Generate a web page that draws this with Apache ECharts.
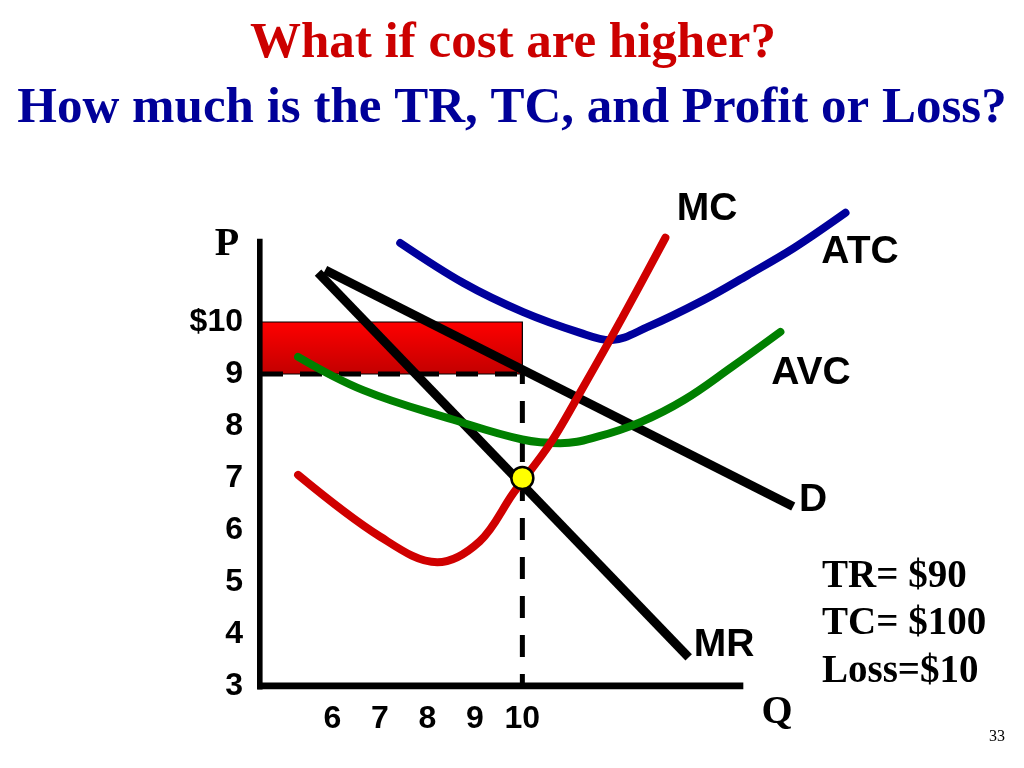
<!DOCTYPE html>
<html>
<head>
<meta charset="utf-8">
<script src="https://cdn.jsdelivr.net/npm/echarts@6/dist/echarts.min.js"></script>
<style>
html,body{margin:0;padding:0;background:#fff;}
#c{width:1024px;height:768px;}
</style>
</head>
<body>
<div id="c"></div>
<script>
// ---- data ----
const qTicks = [6, 7, 8, 9, 10];
const pTicks = [3, 4, 5, 6, 7, 8, 9, 10];
const atc = [[7.43,11.52],[8.76,10.75],[10.02,10.19],[11.22,9.79],[11.85,9.65],[12.63,9.90],[13.81,10.42],[14.74,10.90],[15.71,11.42],[16.8,12.1]];
const avc = [[5.28,9.33],[6.65,8.69],[8.55,8.12],[10.0,7.74],[10.8,7.67],[11.6,7.8],[12.5,8.08],[13.4,8.5],[14.4,9.13],[15.43,9.81]];
const mc = [[5.28,7.06],[7.01,5.87],[8.21,5.38],[9.1,5.78],[9.81,6.71],[10.59,7.67],[11.3,8.78],[12.1,10.08],[13.01,11.62]];
const demand = [[5.85,11.0],[15.7,6.45]];
const mr = [[5.7,10.95],[13.5,3.55]];
const qStar = 10, pStar = 9, atcStar = 10, mcStar = 7;
const lossBox = [[4.5, atcStar, qStar, pStar]];
const priceDash = [[4.5, pStar],[qStar, pStar]];
const qDash = [[qStar, pStar],[qStar, 3]];
const optimum = [[qStar, mcStar]];
const yAxisFrame = [[4.46, 2.92],[4.46, 11.6]];
const xAxisFrame = [[4.43, 3],[14.65, 3]];

const chart = echarts.init(document.getElementById('c'));
const sans = 'Liberation Sans, Arial, sans-serif';
const serif = 'Liberation Serif, Times New Roman, serif';
function txt(s, x, y, font, size, opts) {
  return {
    type: 'text', x: x, y: y,
    style: Object.assign({text: s, font: 'bold ' + size + 'px ' + font, fill: '#000', textAlign: 'center', textVerticalAlign: 'middle'}, (opts||{}))
  };
}
const option = {
  animation: false,
  grid: {left: 261, top: 192, width: 594, height: 494},
  xAxis: {
    type: 'value', min: 4.5, max: 17,
    axisLine: {show: false}, axisTick: {show: false}, splitLine: {show: false},
    axisLabel: {customValues: qTicks, margin: 17, color: '#000', fontFamily: sans, fontWeight: 'bold', fontSize: 32}
  },
  yAxis: {
    type: 'value', min: 3, max: 12.5,
    axisLine: {show: false}, axisTick: {show: false}, splitLine: {show: false},
    axisLabel: {customValues: pTicks, margin: 18, color: '#000', fontFamily: sans, fontWeight: 'bold', fontSize: 32,
      padding: [0,0,8,0],
      formatter: v => v === 10 ? '$10' : String(v)}
  },
  series: [
    {
      type: 'custom', data: lossBox, z: 1,
      renderItem: function(params, api) {
        const p1 = api.coord([api.value(0), api.value(1)]);
        const p2 = api.coord([api.value(2), api.value(3)]);
        return {
          type: 'rect',
          shape: {x: p1[0], y: p1[1], width: p2[0]-p1[0], height: p2[1]-p1[1]},
          style: {
            fill: new echarts.graphic.LinearGradient(0,0,0,1,[{offset:0,color:'#ff0000'},{offset:1,color:'#c20000'}]),
            stroke: '#000', lineWidth: 1.2
          }
        };
      },
      encode: {x: [0,2], y: [1,3]}
    },
    {type: 'line', data: priceDash, symbol: 'none', z: 2, lineStyle: {color: '#000', width: 5, type: [22,17]}},
    {type: 'line', data: qDash, symbol: 'none', z: 2, lineStyle: {color: '#000', width: 5, type: [22,17], dashOffset: 12}},
    {type: 'line', data: demand, symbol: 'none', z: 3, lineStyle: {color: '#000', width: 9}},
    {type: 'line', data: mr, symbol: 'none', z: 3, lineStyle: {color: '#000', width: 9}},
    {type: 'line', data: atc, symbol: 'none', smooth: 0.35, z: 4, lineStyle: {color: '#00009c', width: 8, cap: 'round'}},
    {type: 'line', data: avc, symbol: 'none', smooth: 0.4, z: 4, lineStyle: {color: '#008000', width: 8, cap: 'round'}},
    {type: 'line', data: mc, symbol: 'none', smooth: 0.35, z: 5, lineStyle: {color: '#d00000', width: 8, cap: 'round'}},
    {type: 'line', data: yAxisFrame, symbol: 'none', z: 6, lineStyle: {color: '#000', width: 7}},
    {type: 'line', data: xAxisFrame, symbol: 'none', z: 6, lineStyle: {color: '#000', width: 7}},
    {type: 'scatter', data: optimum, symbolSize: 22, z: 7, itemStyle: {color: '#ffff00', borderColor: '#000', borderWidth: 2.5, opacity: 1}}
  ],
  graphic: [
    txt('What if cost are higher?', 513, 44, serif, 51, {fill: '#cc0000'}),
    txt('How much is the TR, TC, and Profit or Loss?', 512, 109, serif, 51, {fill: '#000099'}),
    txt('P', 227, 245, serif, 40),
    txt('Q', 777, 713, serif, 40),
    txt('MC', 707, 209, sans, 39),
    txt('ATC', 860, 252, sans, 39),
    txt('AVC', 811, 373, sans, 39),
    txt('D', 813, 500, sans, 39),
    txt('MR', 724, 645, sans, 39),
    txt('TR= $90', 822, 577, serif, 39, {textAlign: 'left'}),
    txt('TC= $100', 822, 624, serif, 39, {textAlign: 'left'}),
    txt('Loss=$10', 822, 672, serif, 39, {textAlign: 'left'}),
    {type: 'text', x: 997, y: 737, style: {text: '33', font: '16px ' + serif, fill: '#000', textAlign: 'center', textVerticalAlign: 'middle'}}
  ]
};
chart.setOption(option);
</script>
</body>
</html>
